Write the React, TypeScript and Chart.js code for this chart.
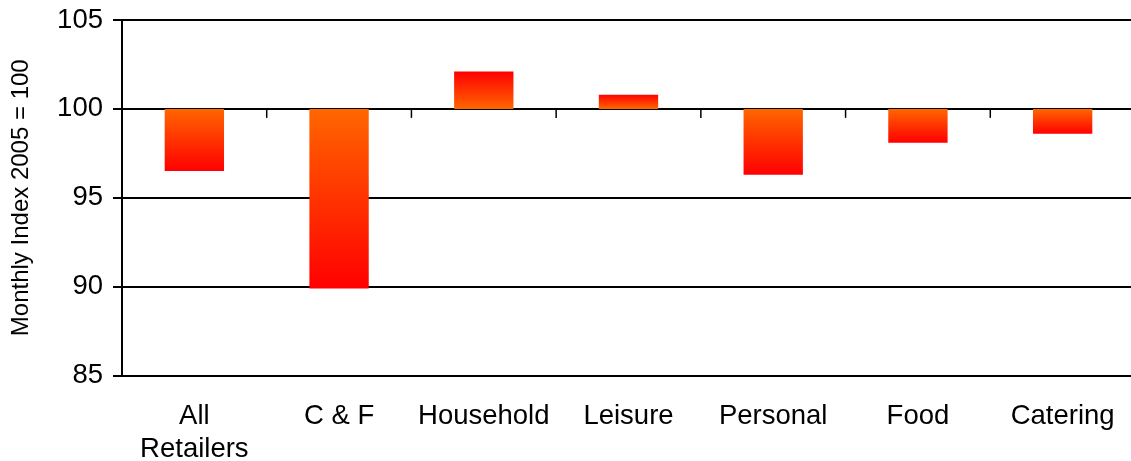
import React, { useEffect, useRef } from "react";
import { Chart, registerables } from "chart.js";

Chart.register(...registerables);

const categories: (string | string[])[] = [
  ["All", "Retailers"],
  "C & F",
  "Household",
  "Leisure",
  "Personal",
  "Food",
  "Catering",
];
const indexValues: number[] = [96.5, 89.9, 102.1, 100.8, 96.3, 98.1, 98.6];
const baseValue = 100;
const yTicks: number[] = [85, 90, 95, 100, 105];
const yTitle = "Monthly Index 2005 = 100";

const FONT = "'Liberation Sans', Arial, sans-serif";

export default function App() {
  const ref = useRef<HTMLCanvasElement | null>(null);

  useEffect(() => {
    document.body.style.margin = "0";
    const canvas = ref.current;
    if (!canvas) return;

    const crossTicks = {
      id: "crossTicks",
      afterDatasetsDraw(chart: any) {
        const { ctx, scales } = chart;
        const x = scales.x;
        const y = scales.y;
        const y0 = y.getPixelForValue(baseValue);
        const step = x.getPixelForValue(1) - x.getPixelForValue(0);
        ctx.save();
        ctx.strokeStyle = "#000";
        ctx.lineWidth = 1.5;
        for (let i = 0; i < categories.length; i++) {
          const px = x.getPixelForValue(i) + step / 2;
          ctx.beginPath();
          ctx.moveTo(px, y0);
          ctx.lineTo(px, y0 + 9);
          ctx.stroke();
        }
        ctx.restore();
      },
    };

    const chart = new Chart(canvas, {
      type: "bar",
      data: {
        labels: categories,
        datasets: [
          {
            data: indexValues.map((v) => [baseValue, v]) as any,
            backgroundColor: (c: any) => {
              const ch = c.chart;
              const y = ch.scales?.y;
              if (!y || c.dataIndex === undefined) return "#ff3300";
              const v = indexValues[c.dataIndex];
              const p0 = y.getPixelForValue(baseValue);
              const p1 = y.getPixelForValue(v);
              if (!isFinite(p0) || !isFinite(p1) || p0 === p1) return "#ff6600";
              const g = ch.ctx.createLinearGradient(0, p0, 0, p1);
              g.addColorStop(0, "#ff6600");
              g.addColorStop(1, "#ff0000");
              return g;
            },
            borderWidth: 0,
            barPercentage: 1,
            categoryPercentage: 0.41,
          },
        ],
      },
      options: {
        responsive: false,
        animation: false,
        maintainAspectRatio: false,
        layout: { padding: { top: 20, right: 0, left: 0, bottom: 0 } },
        plugins: {
          legend: { display: false },
          tooltip: { enabled: false },
        },
        scales: {
          x: {
            grid: { display: false, drawTicks: false },
            border: { display: false },
            ticks: {
              color: "#000",
              font: { family: FONT, size: 27.5, lineHeight: 1.22 },
              padding: 24,
              maxRotation: 0,
              autoSkip: false,
            },
            afterFit: (s: any) => {
              s.height = 85.5;
              s.paddingLeft = 0;
              s.paddingRight = 0;
            },
          },
          y: {
            min: 85,
            max: 105,
            afterBuildTicks: (s: any) => {
              s.ticks = yTicks.map((v) => ({ value: v }));
            },
            grid: {
              color: "#000",
              lineWidth: 2,
              drawTicks: true,
              tickLength: 9,
            },
            border: { display: true, color: "#000", width: 2 },
            ticks: {
              color: "#000",
              font: { family: FONT, size: 27.5 },
              padding: 10,
            },
            title: {
              display: true,
              text: yTitle,
              color: "#000",
              font: { family: FONT, size: 24 },
              padding: { top: 7, bottom: 0 },
            },
            afterFit: (s: any) => {
              s.width = 122;
              s.paddingTop = 0;
              s.paddingBottom = 0;
            },
          },
        },
      },
      plugins: [crossTicks],
    });

    return () => chart.destroy();
  }, []);

  return (
    <div style={{ width: 1131, height: 461, overflow: "hidden" }}>
      <canvas ref={ref} width={1135} height={461} style={{ display: "block" }} />
    </div>
  );
}
